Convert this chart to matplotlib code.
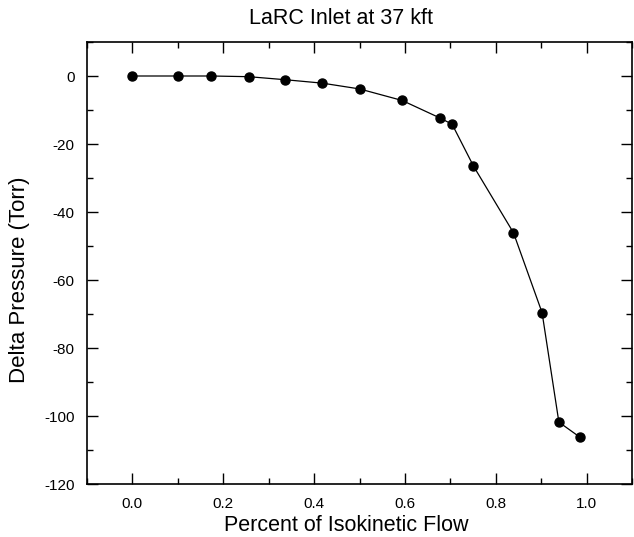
import matplotlib
matplotlib.use('Agg')
import matplotlib.pyplot as plt
from matplotlib.ticker import MultipleLocator

plt.rcParams['font.family'] = ['Liberation Sans', 'DejaVu Sans']
plt.rcParams['axes.unicode_minus'] = False

# data
flow = [0.0, 0.1, 0.174, 0.256, 0.337, 0.418, 0.500, 0.594, 0.678, 0.704,
        0.751, 0.839, 0.902, 0.939, 0.986]
delta_p = [0.0, 0.0, 0.0, -0.2, -1.1, -2.1, -3.8, -7.2, -12.4, -14.2,
           -26.5, -46.1, -69.6, -101.8, -106.3]

title = 'LaRC Inlet at 37 kft'
xlabel = 'Percent of Isokinetic Flow'
ylabel = 'Delta Pressure (Torr)'

W, H = 634, 537
fig = plt.figure(figsize=(W / 100, H / 100), dpi=100)
ax = fig.add_axes([87 / W, 1 - 484 / H, 545 / W, 442 / H])

ax.plot(flow, delta_p, color='black', linewidth=0.9, marker='o',
        markersize=6.5, markerfacecolor='black', markeredgecolor='black')

ax.set_xlim(-0.1, 1.1)
ax.set_ylim(-120, 10)
ax.xaxis.set_minor_locator(MultipleLocator(0.1))
ax.yaxis.set_major_locator(MultipleLocator(20))
ax.yaxis.set_minor_locator(MultipleLocator(10))
ax.set_xticks([0.0, 0.2, 0.4, 0.6, 0.8, 1.0])
ax.xaxis.set_major_formatter(plt.FormatStrFormatter('%.1f'))

ax.tick_params(which='both', direction='in', top=True, right=True,
               labelsize=11, width=1.0, pad=9)
ax.tick_params(which='major', length=8)
ax.tick_params(which='minor', length=4)
for s in ax.spines.values():
    s.set_linewidth(1.2)

# title and axis labels sit slightly off-centre in the original
fig.text(341 / W, 1 - 24 / H, title, fontsize=15.5, ha='center', va='baseline')
fig.text(346 / W, 1 - 531 / H, xlabel, fontsize=15.5, ha='center', va='baseline')
fig.text(20 / W, 1 - 280 / H, ylabel, fontsize=16, rotation=90,
         ha='center', va='center')

fig.savefig('out.png', dpi=100)
